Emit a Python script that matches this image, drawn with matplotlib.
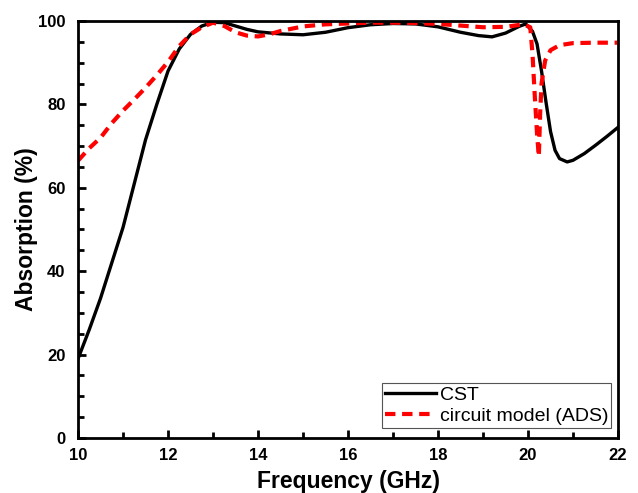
import matplotlib.pyplot as plt
from matplotlib.ticker import MultipleLocator

plt.rcParams["font.family"] = ["Liberation Sans", "DejaVu Sans"]

# CST simulation (black solid)
cst_freq = [10.0, 10.25, 10.5, 10.75, 11.0, 11.25, 11.5, 11.75, 12.0, 12.25,
            12.5, 12.75, 13.0, 13.25, 13.5, 13.75, 14.0, 14.5, 15.0, 15.5,
            16.0, 16.5, 17.0, 17.5, 18.0, 18.5, 18.9, 19.2, 19.5, 19.8,
            19.95, 20.1, 20.2, 20.3, 20.4, 20.5, 20.6, 20.7, 20.87, 21.0,
            21.25, 21.5, 21.75, 22.0]
cst_abs = [19.0, 26.0, 33.5, 42.0, 50.5, 61.0, 71.5, 80.0, 88.0, 93.3,
           96.8, 98.8, 99.7, 99.6, 98.8, 98.0, 97.4, 96.9, 96.7, 97.3,
           98.4, 99.1, 99.4, 99.3, 98.6, 97.3, 96.5, 96.2, 97.1, 98.7,
           99.3, 97.5, 94.5, 88.0, 80.5, 73.5, 69.0, 67.0, 66.2, 66.6,
           68.2, 70.2, 72.3, 74.5]

# circuit model (ADS), red dashed
ads_freq = [10.0, 10.25, 10.5, 10.75, 11.0, 11.25, 11.5, 11.75, 12.0, 12.25,
            12.5, 12.75, 13.0, 13.25, 13.5, 13.75, 14.0, 14.25, 14.5, 15.0,
            15.5, 16.0, 16.5, 17.0, 17.5, 18.0, 18.5, 19.0, 19.5, 19.9,
            20.05, 20.1, 20.15, 20.2, 20.24, 20.27, 20.3, 20.38, 20.5, 20.7,
            21.0, 21.5, 22.0]
ads_abs = [66.5, 69.5, 72.0, 75.5, 78.5, 81.2, 84.0, 87.0, 90.2, 94.0,
           96.8, 98.5, 99.6, 98.8, 97.3, 96.5, 96.3, 96.8, 97.6, 98.7,
           99.2, 99.4, 99.6, 99.6, 99.5, 99.3, 98.9, 98.5, 98.6, 99.2,
           98.5, 92.0, 82.0, 73.0, 67.5, 78.0, 85.0, 90.5, 93.0, 94.2,
           94.7, 94.8, 94.8]

fig = plt.figure(figsize=(6.38, 4.93), dpi=100)
ax = fig.add_axes([0.1223, 0.1116, 0.8464, 0.8458])

ax.plot(cst_freq, cst_abs, color="black", linewidth=2.4, label="CST")
ax.plot(ads_freq, ads_abs, color="#ff0000", linewidth=3,
        linestyle=(0, (2.5, 1.6)), label="circuit model (ADS)")

ax.set_xlim(10, 22)
ax.set_ylim(0, 100)
ax.xaxis.set_major_locator(MultipleLocator(2))
ax.xaxis.set_minor_locator(MultipleLocator(1))
ax.yaxis.set_major_locator(MultipleLocator(20))
ax.yaxis.set_minor_locator(MultipleLocator(5))
ax.tick_params(which="both", direction="in", width=2, top=False, right=False,
               labelsize=12)
ax.tick_params(which="major", length=6)
ax.tick_params(which="minor", length=4)
ax.tick_params(axis="x", which="both", pad=7)
ax.tick_params(axis="y", which="both", pad=9)
for lab in ax.get_xticklabels() + ax.get_yticklabels():
    lab.set_fontweight("bold")
for sp in ax.spines.values():
    sp.set_linewidth(2)

ax.set_xlabel("Frequency (GHz)", fontsize=16.5, fontweight="bold", labelpad=5)
ax.set_ylabel("Absorption (%)", fontsize=16.5, fontweight="bold", labelpad=0)

leg = ax.legend(loc="lower right", bbox_to_anchor=(0.987, 0.024),
                borderaxespad=0, fontsize=14, handlelength=2.6,
                handletextpad=0.2, borderpad=0.15, labelspacing=0.2,
                fancybox=False, framealpha=1)
leg.get_frame().set_edgecolor("#555555")
leg.get_frame().set_linewidth(0.8)

fig.savefig("out.png", dpi=100)
